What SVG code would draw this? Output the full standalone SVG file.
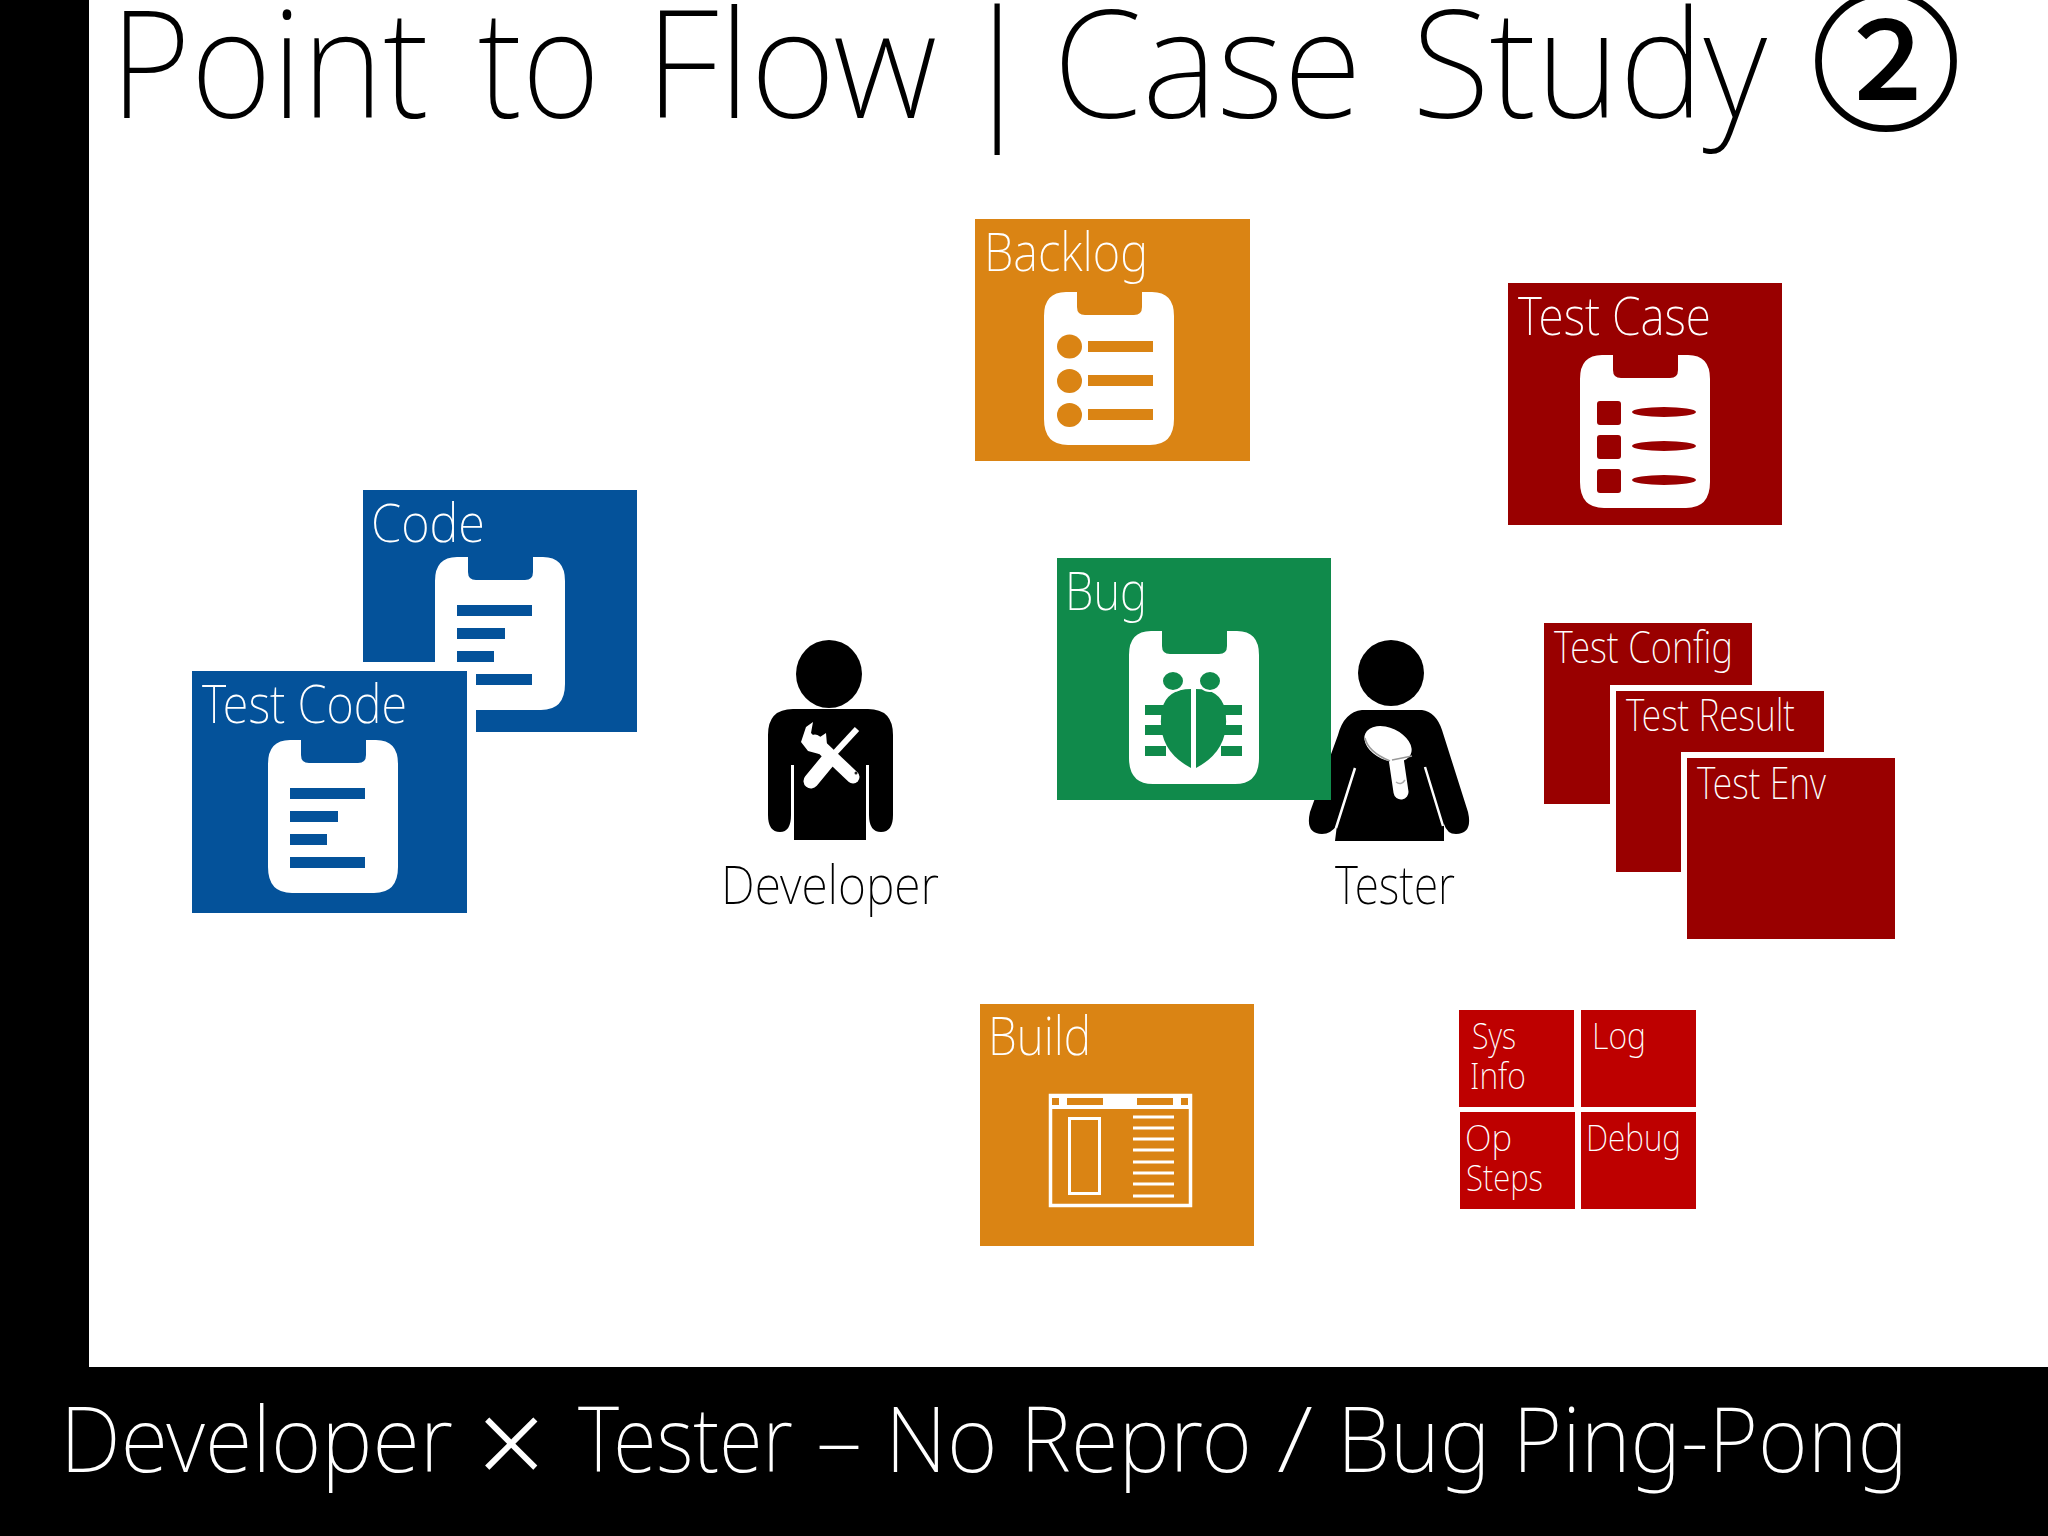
<svg xmlns="http://www.w3.org/2000/svg" width="2048" height="1536" viewBox="0 0 2048 1536">
<style>
text{font-family:"Noto Sans","Open Sans","Liberation Sans",sans-serif;font-weight:200;fill:#fff}
.ink{fill:#000}
.t{font-size:54px}
.m{font-size:44px}
.s{font-size:37px}
.orange{fill:#DA8414}
.blue{fill:#04529A}
.green{fill:#108A4B}
.dred{fill:#990000}
.red{fill:#BE0000}
.halo{stroke:#fff;stroke-width:12;paint-order:stroke}
.bar{fill:none;stroke:#fff}
</style>
<defs>
<path id="clip" fill="#fff" d="M22 0H33V15Q33 23 41 23H90Q98 23 98 15V0H108Q130 0 130 24V127Q130 153 106 153H24Q0 153 0 127V24Q0 0 22 0Z"/>
<g id="codeLines">
<rect x="22" y="48" width="75" height="11"/><rect x="22" y="71" width="48" height="11"/><rect x="22" y="94" width="37" height="11"/><rect x="22" y="117" width="75" height="11"/>
</g>
</defs>
<rect width="2048" height="1536" fill="#fff"/>
<rect id="left-band" width="89" height="1536" fill="#000"/>
<rect id="bottom-band" y="1367" width="2048" height="169" fill="#000"/>
<text id="title" class="ink" y="118" style="font-size:150px"><tspan x="110" textLength="319" lengthAdjust="spacingAndGlyphs">Point</tspan> <tspan x="478" textLength="122" lengthAdjust="spacingAndGlyphs">to</tspan> <tspan x="645" textLength="292" lengthAdjust="spacingAndGlyphs">Flow</tspan> <tspan x="957">|</tspan> <tspan x="1053" textLength="309" lengthAdjust="spacingAndGlyphs">Case</tspan> <tspan x="1412" textLength="355" lengthAdjust="spacingAndGlyphs">Study</tspan> <tspan x="1811" y="118" style="font-size:150px;font-family:'Noto Sans CJK JP',sans-serif;font-weight:400;stroke:#000;stroke-width:2" textLength="150" lengthAdjust="spacingAndGlyphs">②</tspan></text>
<text id="subtitle" y="1472" style="font-size:90px"><tspan x="60" textLength="393" lengthAdjust="spacingAndGlyphs">Developer</tspan> <tspan x="477" y="1486" style="font-size:120px;font-weight:300">×</tspan> <tspan x="578" y="1472" textLength="215" lengthAdjust="spacingAndGlyphs">Tester</tspan> <tspan x="816" textLength="46" lengthAdjust="spacingAndGlyphs">–</tspan> <tspan x="885" textLength="367" lengthAdjust="spacingAndGlyphs">No Repro</tspan> <tspan x="1277" textLength="36" lengthAdjust="spacingAndGlyphs">/</tspan> <tspan x="1337" textLength="571" lengthAdjust="spacingAndGlyphs">Bug Ping-Pong</tspan></text>

<g id="backlog">
<rect class="orange" x="975" y="219" width="275" height="242"/>
<text class="t" x="984" y="271" textLength="164" lengthAdjust="spacingAndGlyphs">Backlog</text>
<g transform="translate(1044 292)" class="orange">
<use href="#clip"/>
<ellipse cx="25.5" cy="54.5" rx="12.5" ry="12"/><ellipse cx="25.5" cy="89" rx="12.5" ry="12"/><ellipse cx="25.5" cy="123" rx="12.5" ry="12"/>
<rect x="44" y="49" width="65" height="11"/><rect x="44" y="83" width="65" height="11"/><rect x="44" y="117" width="65" height="11"/>
</g>
</g>

<g id="test-case">
<rect class="dred" x="1508" y="283" width="274" height="242"/>
<text class="t" x="1518" y="335" textLength="193" lengthAdjust="spacingAndGlyphs">Test Case</text>
<g transform="translate(1580 355)" class="dred">
<use href="#clip"/>
<rect x="17" y="46" width="24" height="24" rx="3"/><rect x="17" y="80" width="24" height="24" rx="3"/><rect x="17" y="114" width="24" height="24" rx="3"/>
<ellipse cx="84" cy="57" rx="32" ry="5"/><ellipse cx="84" cy="91" rx="32" ry="5"/><ellipse cx="84" cy="125" rx="32" ry="5"/>
</g>
</g>

<g id="code">
<rect class="blue" x="363" y="490" width="274" height="242"/>
<text class="t" x="371" y="542" textLength="114" lengthAdjust="spacingAndGlyphs">Code</text>
<g transform="translate(435 557)" class="blue"><use href="#clip"/><use href="#codeLines"/></g>
</g>

<g id="test-code">
<rect class="blue halo" x="192" y="671" width="275" height="242" style="stroke-width:18"/>
<text class="t" x="202" y="723" textLength="205" lengthAdjust="spacingAndGlyphs">Test Code</text>
<g transform="translate(268 740)" class="blue"><use href="#clip"/><use href="#codeLines"/></g>
</g>

<g id="developer">
<ellipse class="ink" cx="829" cy="674" rx="33" ry="34"/>
<path class="ink" d="M793 709H868Q893 709 893 735V815Q893 832 881 832Q869 832 869 815V765H866V840H794V765H791V815Q791 832 780 832Q768 832 768 815V735Q768 709 793 709Z"/>
<path d="M857 729L832 756" class="bar" stroke-width="6"/>
<path d="M830 758L811 781" class="bar" stroke-width="15" stroke-linecap="round"/>
<path d="M815 741L853 777" class="bar" stroke-width="13" stroke-linecap="round"/>
<path fill="#fff" d="M806 727L813 722L811 733L817 739L826 733L827 745L819 754L808 751L801 742Z"/>
<circle cx="856" cy="773" r="1.500" fill="#222"/>
<text class="ink t" x="721" y="904" textLength="218" lengthAdjust="spacingAndGlyphs">Developer</text>
</g>

<g id="tester">
<ellipse class="ink" cx="1391" cy="673" rx="33" ry="33"/>
<path class="ink" d="M1362 710H1422Q1436 712 1442 730L1468 812Q1473 834 1456 834Q1447 834 1444 824L1444 841H1335L1337 825Q1331 834 1322 834Q1305 834 1310 812L1338 735Q1344 712 1362 710Z"/>
<path d="M1355 768L1336 828M1425 767L1443 826" class="bar" stroke-width="2.500"/>
<path d="M1396 758L1401 792" class="bar" stroke-width="15" stroke-linecap="round"/>
<ellipse cx="1388" cy="744" rx="25" ry="16" fill="#fff" transform="rotate(25 1388 744)"/>
<path d="M1365 738Q1368 752 1390 761M1392 760L1412 756" fill="none" stroke="#999" stroke-width="1.500"/>
<path d="M1396 782Q1401 786 1405 780" fill="none" stroke="#aaa" stroke-width="1.500"/>
<text class="ink t" x="1335" y="904" textLength="120" lengthAdjust="spacingAndGlyphs">Tester</text>
</g>

<g id="bug">
<rect class="green" x="1057" y="558" width="274" height="242"/>
<text class="t" x="1065" y="610" textLength="82" lengthAdjust="spacingAndGlyphs">Bug</text>
<g transform="translate(1129 631)" class="green">
<use href="#clip"/>
<rect x="16" y="74" width="21" height="10"/><rect x="16" y="94" width="21" height="10"/><rect x="16" y="115" width="21" height="10"/>
<rect x="92" y="74" width="21" height="10"/><rect x="92" y="94" width="21" height="10"/><rect x="92" y="115" width="21" height="10"/>
<path d="M62 58Q38 58 33 78Q26 118 62 137Z"/>
<path d="M67 58Q91 58 96 78Q103 118 67 137Z"/>
<ellipse cx="44" cy="50" rx="11" ry="10" stroke="#fff" stroke-width="2"/>
<ellipse cx="81" cy="50" rx="11" ry="10" stroke="#fff" stroke-width="2"/>
</g>
</g>

<g id="test-config">
<rect class="dred" x="1544" y="623" width="208" height="181"/>
<text class="m" x="1554" y="663" textLength="179" lengthAdjust="spacingAndGlyphs">Test Config</text>
</g>
<g id="test-result">
<rect class="dred halo" x="1616" y="691" width="208" height="181"/>
<text class="m" x="1626" y="731" textLength="169" lengthAdjust="spacingAndGlyphs">Test Result</text>
</g>
<g id="test-env">
<rect class="dred halo" x="1687" y="758" width="208" height="181"/>
<text class="m" x="1697" y="799" textLength="129" lengthAdjust="spacingAndGlyphs">Test Env</text>
</g>

<g id="build">
<rect class="orange" x="980" y="1004" width="274" height="242"/>
<text class="t" x="988" y="1055" textLength="103" lengthAdjust="spacingAndGlyphs">Build</text>
<rect class="bar" x="1050.500" y="1095.500" width="140" height="110" stroke-width="3.500"/>
<rect x="1049" y="1094" width="143" height="15" fill="#fff"/>
<g class="orange"><rect x="1052" y="1098" width="7" height="7"/><rect x="1067" y="1098" width="36" height="7"/><rect x="1137" y="1098" width="36" height="7"/><rect x="1181" y="1098" width="7" height="7"/></g>
<rect class="bar" x="1069.500" y="1118.500" width="30" height="75" stroke-width="3"/>
<path class="bar" stroke-width="3" d="M1133 1117H1174M1133 1128H1174M1133 1139H1174M1133 1150H1174M1133 1162H1174M1133 1173H1174M1133 1184H1174M1133 1196H1174"/>
</g>

<g id="sys-info">
<rect class="red" x="1459" y="1010" width="115" height="97"/>
<text class="s" x="1472" y="1049" textLength="44" lengthAdjust="spacingAndGlyphs">Sys</text>
<text class="s" x="1470" y="1089" textLength="56" lengthAdjust="spacingAndGlyphs">Info</text>
</g>
<g id="log">
<rect class="red" x="1581" y="1010" width="115" height="97"/>
<text class="s" x="1592" y="1049" textLength="54" lengthAdjust="spacingAndGlyphs">Log</text>
</g>
<g id="op-steps">
<rect class="red" x="1460" y="1112" width="115" height="97"/>
<text class="s" x="1465" y="1151" textLength="47" lengthAdjust="spacingAndGlyphs">Op</text>
<text class="s" x="1466" y="1191" textLength="77" lengthAdjust="spacingAndGlyphs">Steps</text>
</g>
<g id="debug">
<rect class="red" x="1581" y="1112" width="115" height="97"/>
<text class="s" x="1586" y="1151" textLength="95" lengthAdjust="spacingAndGlyphs">Debug</text>
</g>
</svg>
